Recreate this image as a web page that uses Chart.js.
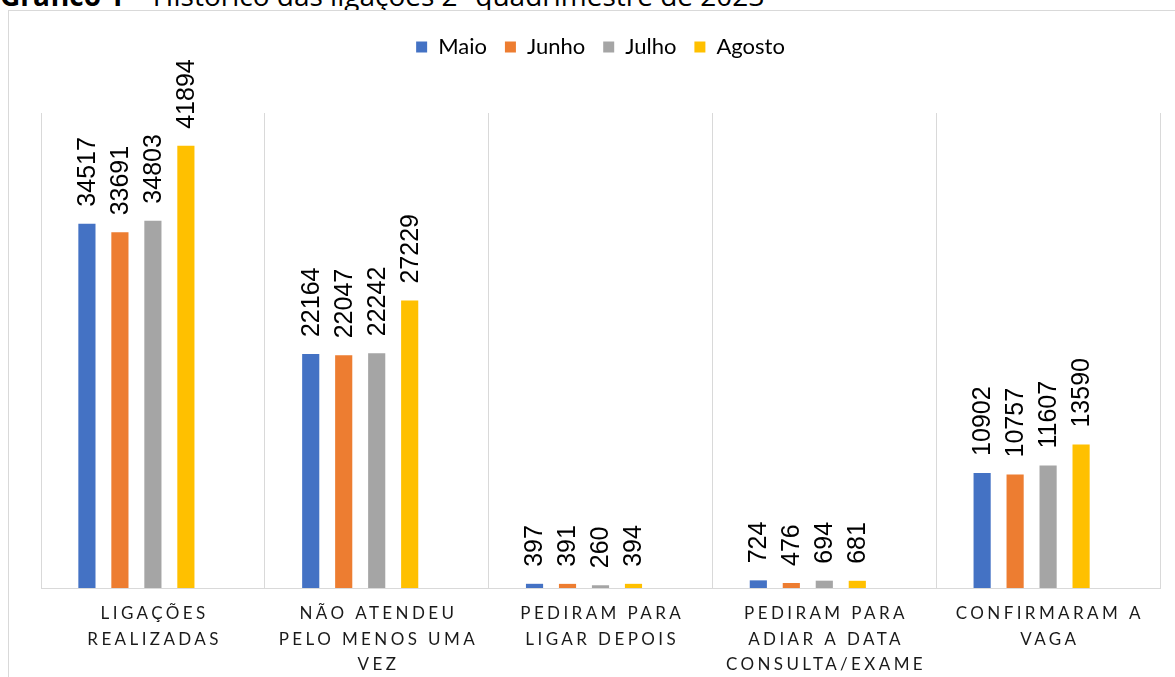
<!DOCTYPE html>
<html>
<head>
<meta charset="utf-8">
<script src="https://cdn.jsdelivr.net/npm/chart.js@4/dist/chart.umd.min.js"></script>
<style>
  body { margin: 0; background: #fff; overflow: hidden; }
  #wrap { position: relative; width: 1175px; height: 677px; }
  #title {
    position: absolute; left: 0; top: -19px; white-space: nowrap;
    font-family: "Open Sans", sans-serif; font-size: 28px; line-height: 28px; color: #000;
  }
  #frame {
    position: absolute; left: 8px; top: 10px; width: 1180px; height: 680px;
    border: 1px solid #d9d9d9; box-sizing: border-box; background: #fff;
  }
  #chart { position: absolute; left: 0; top: 0; }
</style>
</head>
<body>
<div id="wrap">
  <div id="title"><b>Gráfico 1</b> – Histórico das ligações 2º quadrimestre de 2023</div>
  <div id="frame"></div>
  <canvas id="chart" width="1175" height="677"></canvas>
</div>
<script>
document.addEventListener("DOMContentLoaded", function () {
  const categories = [
    ["LIGAÇÕES", "REALIZADAS"],
    ["NÃO ATENDEU", "PELO MENOS UMA", "VEZ"],
    ["PEDIRAM PARA", "LIGAR DEPOIS"],
    ["PEDIRAM PARA", "ADIAR A DATA", "CONSULTA/EXAME"],
    ["CONFIRMARAM A", "VAGA"],
  ];
  const maio = [34517, 22164, 397, 724, 10902];
  const junho = [33691, 22047, 391, 476, 10757];
  const julho = [34803, 22242, 260, 694, 11607];
  const agosto = [41894, 27229, 394, 681, 13590];

  // rotated value labels above each bar
  const valueLabels = {
    id: "valueLabels",
    afterDatasetsDraw(chart) {
      const ctx = chart.ctx;
      ctx.save();
      ctx.font = "25px 'Liberation Sans', Arial, sans-serif";
      ctx.fillStyle = "#000";
      ctx.textAlign = "left";
      ctx.textBaseline = "middle";
      chart.data.datasets.forEach((ds, i) => {
        if (!ds.label) return;
        chart.getDatasetMeta(i).data.forEach((bar, j) => {
          ctx.save();
          ctx.translate(bar.x, bar.y - 17);
          ctx.rotate(-Math.PI / 2);
          ctx.fillText(String(ds.data[j]), 0, 1);
          ctx.restore();
        });
      });
      ctx.restore();
    },
  };

  // spaced-out category labels under the axis
  const categoryLabels = {
    id: "categoryLabels",
    afterDraw(chart) {
      const ctx = chart.ctx;
      const xScale = chart.scales.x;
      ctx.save();
      ctx.font = "17px Lato, sans-serif";
      ctx.fillStyle = "#1a1a1a";
      ctx.textAlign = "center";
      ctx.textBaseline = "middle";
      ctx.letterSpacing = "3.4px";
      categories.forEach((lines, i) => {
        const x = xScale.getPixelForTick(i) + 1.7;
        lines.forEach((line, k) => {
          ctx.fillText(line, x, chart.chartArea.bottom + 26 + k * 25.5);
        });
      });
      ctx.restore();
    },
  };

  const legendSpace = {
    id: "legendSpace",
    beforeInit(chart) {
      const fit = chart.legend.fit;
      chart.legend.fit = function () {
        fit.bind(chart.legend)();
        this.height = 95;
      };
    },
  };

  new Chart(document.getElementById("chart").getContext("2d"), {
    type: "bar",
    data: {
      labels: categories,
      datasets: [
        { label: "Maio", data: maio, backgroundColor: "#4472C4" },
        { label: "Junho", data: junho, backgroundColor: "#ED7D31" },
        { label: "Julho", data: julho, backgroundColor: "#A5A5A5" },
        { label: "Agosto", data: agosto, backgroundColor: "#FFC000" },
        { label: "", data: [], backgroundColor: "rgba(0,0,0,0)" },
      ],
    },
    options: {
      responsive: false,
      animation: false,
      datasets: {
        bar: { categoryPercentage: 0.737, barPercentage: 0.52 },
      },
      layout: { padding: { left: 41, right: 15, top: 18, bottom: 89 } },
      plugins: {
        legend: {
          position: "top",
          labels: {
            boxWidth: 11,
            boxHeight: 11,
            padding: 18,
            color: "#000",
            font: { family: "Lato, sans-serif", size: 22 },
            filter: (item) => item.text !== "",
          },
        },
        tooltip: { enabled: false },
      },
      scales: {
        x: {
          ticks: { display: false },
          grid: { color: "#d9d9d9", drawTicks: false, offset: true },
          border: { color: "#d9d9d9" },
        },
        y: {
          display: false,
          min: 0,
          max: 45000,
        },
      },
    },
    plugins: [valueLabels, categoryLabels, legendSpace],
  });
});
</script>
</body>
</html>
